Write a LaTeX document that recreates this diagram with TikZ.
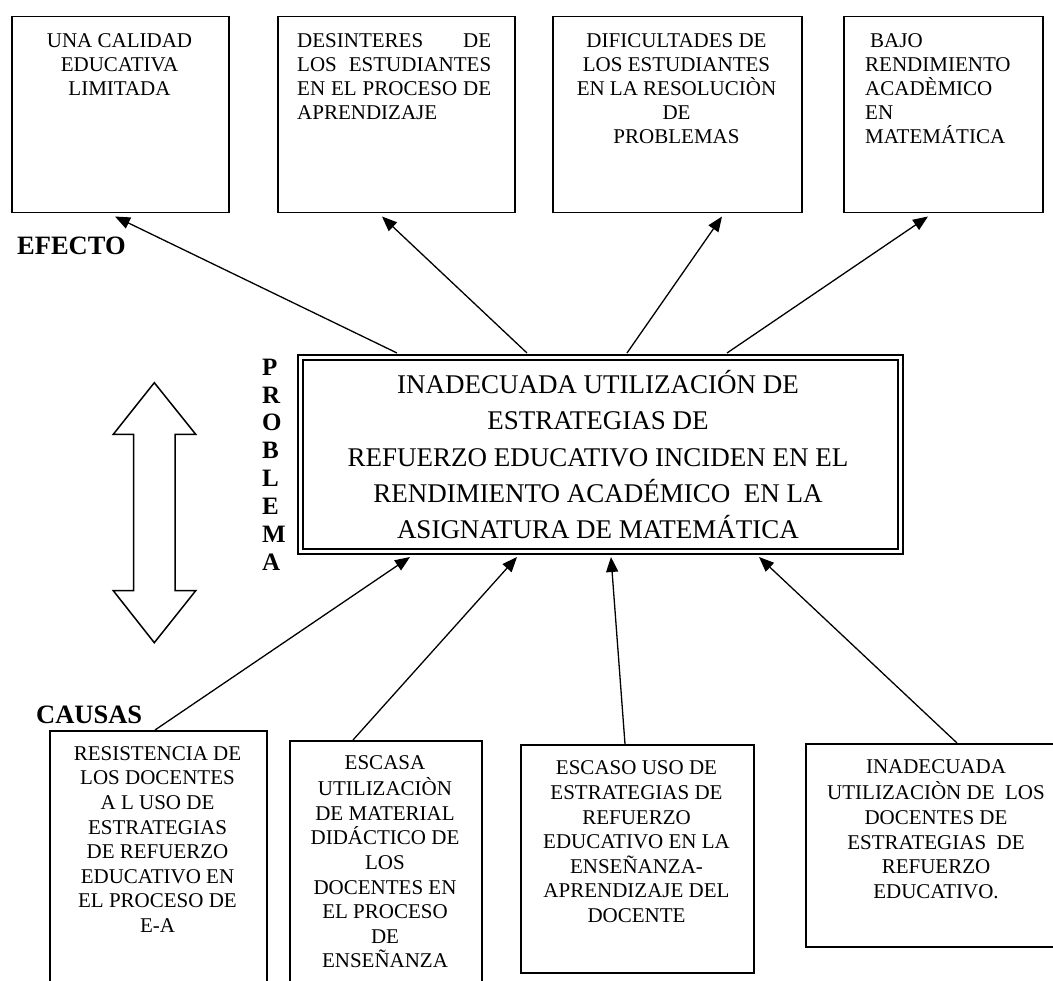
\documentclass[tikz,border=0pt]{standalone}
\usepackage{fontspec}
\setmainfont{Liberation Serif}
\usetikzlibrary{arrows.meta}
\begin{document}
\begin{tikzpicture}[x=1pt,y=-1pt,
  frame/.style={draw, line width=1.5pt, inner sep=0pt, anchor=north west},
  efftxt/.style={inner sep=0pt, align=center, anchor=north, font=\fontsize{21}{24}\selectfont},
  cautxt/.style={inner sep=0pt, align=center, anchor=north, font=\fontsize{21}{24.6}\selectfont},
  probtxt/.style={inner sep=0pt, align=center, anchor=north, font=\fontsize{27}{36.3}\selectfont},
  heading/.style={inner sep=0pt, anchor=base west, font=\fontsize{26.5}{30}\selectfont\bfseries},
  link/.style={line width=1.3pt, -{Triangle[length=15pt,width=12pt]}}
]
\useasboundingbox (0,0) rectangle (1053,981);
\clip (0,0) rectangle (1053,981);

% effect boxes
\node[frame, minimum width=217pt, minimum height=196pt] (ef1) at (11,16) {};
\node[frame, minimum width=237pt, minimum height=196pt] (ef2) at (277,16) {};
\node[frame, minimum width=249pt, minimum height=196pt] (ef3) at (552,16) {};
\node[frame, minimum width=199pt, minimum height=196pt] (ef4) at (843,16) {};

\node[efftxt] (ef1t) at (119.5,30.2) {\strut UNA CALIDAD\\EDUCATIVA\\LIMITADA};
\node[inner sep=0pt, anchor=north west, font=\fontsize{21}{24}\selectfont] (ef2t) at (297,30.2)
  {\parbox[t]{194pt}{\strut DESINTERES\hfill DE\\LOS\hfill ESTUDIANTES\\EN\hfill EL\hfill PROCESO\hfill DE\\APRENDIZAJE}};
\node[efftxt] (ef3t) at (676.5,30.2) {\strut DIFICULTADES DE\\LOS ESTUDIANTES\\EN LA RESOLUCIÒN\\DE\\PROBLEMAS};
\node[efftxt, anchor=north west, align=left] (ef4t) at (865,30.2) {\strut\hspace*{5pt}BAJO\\RENDIMIENTO\\ACADÈMICO\\EN\\MATEMÁTICA};

\node[heading] (efecto) at (17,255) {EFECTO};

% central problem box, double frame
\node[draw, double, line width=2pt, double distance=3pt, inner sep=0pt, anchor=north west,
  minimum width=600pt, minimum height=194pt] (prob) at (299.5,356.5) {};
\node[probtxt] (probt) at (598,368)
  {\strut INADECUADA UTILIZACIÓN DE\\ESTRATEGIAS DE\\REFUERZO EDUCATIVO INCIDEN EN EL\\RENDIMIENTO ACADÉMICO\ \ EN LA\\ASIGNATURA DE MATEMÁTICA};

\node[inner sep=0pt, anchor=north west, align=left, font=\fontsize{25}{27.86}\selectfont\bfseries] (probl)
  at (262,355.5) {\strut P\\R\\O\\B\\L\\E\\M\\A};

% hollow double arrow
\draw[line width=1.5pt, line join=miter] (154.3,382.7) -- (195.7,434.3) -- (175,434.3) -- (175,590.7)
  -- (195.7,590.7) -- (154.3,642.7) -- (113.3,590.7) -- (133.7,590.7) -- (133.7,434.3)
  -- (113.3,434.3) -- cycle;

% cause boxes
\node[frame, minimum width=217pt, minimum height=290pt] (ca1) at (49,730) {};
\node[frame, minimum width=192pt, minimum height=280pt] (ca2) at (289,740) {};
\node[frame, minimum width=233pt, minimum height=228pt] (ca3) at (520,744) {};
\node[frame, minimum width=262pt, minimum height=203pt] (ca4) at (805,743) {};

\node[cautxt] (ca1t) at (157.5,742.8) {\strut RESISTENCIA DE\\LOS DOCENTES\\A L USO DE\\ESTRATEGIAS\\DE REFUERZO\\EDUCATIVO EN\\EL PROCESO DE\\E-A};
\node[cautxt] (ca2t) at (385,751.8) {\strut ESCASA\\UTILIZACIÒN\\DE MATERIAL\\DIDÁCTICO DE\\LOS\\DOCENTES EN\\EL PROCESO\\DE\\ENSEÑANZA};
\node[cautxt] (ca3t) at (636.5,757.5) {\strut ESCASO USO DE\\ESTRATEGIAS DE\\REFUERZO\\EDUCATIVO EN LA\\ENSEÑANZA-\\APRENDIZAJE DEL\\DOCENTE};
\node[cautxt] (ca4t) at (936,756) {\strut INADECUADA\\UTILIZACIÒN DE\ \ LOS\\DOCENTES DE\\ESTRATEGIAS\ \ DE\\REFUERZO\\EDUCATIVO.};

\node[heading] (causas) at (36,723.5) {CAUSAS};

% problem -> effects
\draw[link] ([xshift=97.5pt,yshift=3.5pt]prob.north west) -- ([xshift=104pt,yshift=-3pt]ef1.south west);
\draw[link] ([xshift=227.5pt,yshift=3.5pt]prob.north west) -- ([xshift=105pt,yshift=-3pt]ef2.south west);
\draw[link] ([xshift=327.5pt,yshift=3.5pt]prob.north west) -- ([xshift=170pt,yshift=-3pt]ef3.south west);
\draw[link] ([xshift=427.5pt,yshift=3.5pt]prob.north west) -- ([xshift=85pt,yshift=-3pt]ef4.south west);

% causes -> problem
\draw[link] ([xshift=106pt]ca1.north west) -- ([xshift=110.5pt,yshift=-4.5pt]prob.south west);
\draw[link] ([xshift=64pt]ca2.north west) -- ([xshift=217.5pt,yshift=-4.5pt]prob.south west);
\draw[link] ([xshift=105pt]ca3.north west) -- ([xshift=311.5pt,yshift=-4.5pt]prob.south west);
\draw[link] ([xshift=152pt]ca4.north west) -- ([xshift=459.5pt,yshift=-4.5pt]prob.south west);
\end{tikzpicture}
\end{document}
